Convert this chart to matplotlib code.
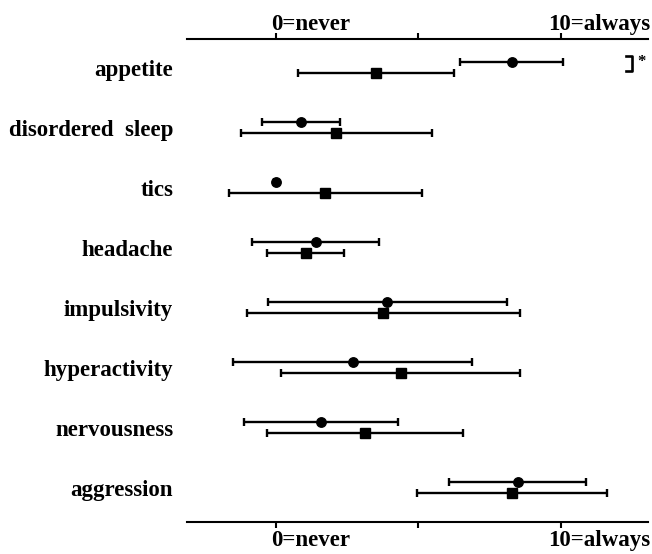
import matplotlib.pyplot as plt
import matplotlib.transforms as mtransforms
import numpy as np

categories = ['appetite', 'disordered  sleep', 'tics', 'headache',
              'impulsivity', 'hyperactivity', 'nervousness', 'aggression']

# circle series (mean, sd)
circle_mean = [8.26, 0.90, 0.00, 1.40, 3.91, 2.70, 1.58, 8.47]
circle_sd = [1.80, 1.37, 0.06, 2.22, 4.18, 4.19, 2.70, 2.39]

# square series (mean, sd)
square_mean = [3.51, 2.13, 1.74, 1.06, 3.77, 4.38, 3.12, 8.28]
square_sd = [2.72, 3.34, 3.38, 1.35, 4.79, 4.18, 3.44, 3.32]

tick_vals = [0, 5, 10]
tick_text = ['0=never', '', '10=always']

plt.rcParams['font.family'] = 'Liberation Serif'
plt.rcParams['font.weight'] = 'bold'

fig = plt.figure(figsize=(6.52, 5.54), dpi=100)
ax = fig.add_axes([0.287, 0.058, 0.707, 0.872])

rows = np.arange(len(categories))
off = 0.095

ax.errorbar(circle_mean, rows - off, xerr=circle_sd, fmt='o', color='black',
            ms=6.8, elinewidth=1.7, capsize=3.2, capthick=1.7)
ax.errorbar(square_mean, rows + off, xerr=square_sd, fmt='s', color='black',
            ms=6.5, elinewidth=1.7, capsize=3.2, capthick=1.7)

# significance bracket on appetite
bx = 12.47
ax.plot([bx - 0.22, bx, bx, bx - 0.22], [-0.19, -0.19, 0.06, 0.06],
        color='black', lw=1.9, clip_on=False)
ax.text(bx + 0.2, -0.1, '*', fontsize=12, ha='left', va='center')

ax.set_xlim(-3.1, 13.04)
ax.set_ylim(7.57, -0.48)

ax.set_yticks(rows)
ax.set_yticklabels(categories, fontsize=16.5)
ax.tick_params(axis='y', length=0, pad=10)

ax.set_xticks(tick_vals)
ax.set_xticklabels(tick_text, fontsize=16.5)
ax.tick_params(axis='x', top=True, labeltop=True, bottom=True, labelbottom=True,
               direction='out', length=4.5, width=1.5, pad=1)

# align labels so the number sits over its tick (shifts in pixels)
for tick, shift in zip(ax.xaxis.get_major_ticks(), [-5, 0, -13]):
    tick.label2.set_horizontalalignment('left')
    tick.label2.set_transform(tick.label2.get_transform() +
                              mtransforms.ScaledTranslation(shift / 100, -4 / 100, fig.dpi_scale_trans))
    tick.label1.set_horizontalalignment('left')
    tick.label1.set_transform(tick.label1.get_transform() +
                              mtransforms.ScaledTranslation(shift / 100, 0, fig.dpi_scale_trans))

for side in ['left', 'right']:
    ax.spines[side].set_visible(False)
for side in ['top', 'bottom']:
    ax.spines[side].set_linewidth(1.5)

plt.savefig('out.png', dpi=100)
